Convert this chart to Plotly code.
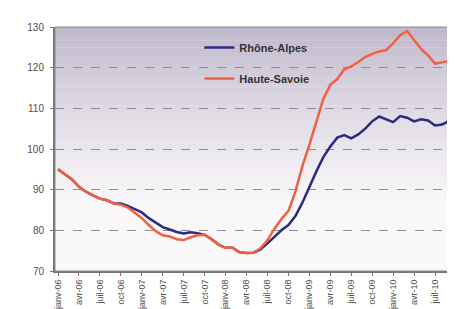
import plotly.graph_objects as go

month_names = ["janv", "févr", "mars", "avr", "mai", "juin",
               "juil", "août", "sept", "oct", "nov", "déc"]
years = ["06", "07", "08", "09", "10"]
months = [f"{m}-{y}" for y in years for m in month_names][:57]

rhone_alpes = [95.0, 93.8, 92.5, 90.7, 89.5, 88.6, 87.8, 87.4, 86.6, 86.6,
               86.0, 85.2, 84.4, 83.0, 81.8, 80.8, 80.2, 79.6, 79.2, 79.5,
               79.3, 78.9, 77.8, 76.5, 75.7, 75.7, 74.6, 74.4, 74.5, 75.3,
               76.8, 78.5, 80.0, 81.3, 83.5, 86.8, 90.8, 94.5, 98.0, 100.6,
               102.8, 103.4, 102.6, 103.6, 105.0, 106.8, 108.0, 107.2, 106.6, 108.1,
               107.7, 106.8, 107.3, 107.0, 105.8, 106.0, 106.9]

haute_savoie = [95.0, 93.8, 92.5, 90.7, 89.5, 88.6, 87.8, 87.4, 86.6, 86.3,
                85.6, 84.3, 83.0, 81.3, 79.8, 78.8, 78.5, 77.8, 77.6, 78.3,
                78.8, 78.9, 77.8, 76.5, 75.7, 75.7, 74.6, 74.4, 74.5, 75.6,
                77.6, 80.4, 82.8, 84.8, 89.5, 95.8, 101.0, 106.5, 112.3, 115.8,
                117.2, 119.6, 120.3, 121.4, 122.6, 123.4, 124.0, 124.3, 126.0, 128.0,
                129.0, 126.8, 124.6, 123.0, 121.0, 121.3, 121.7]

tick_labels = months[::3]
y_ticks = [70, 80, 90, 100, 110, 120, 130]

fig = go.Figure()
fig.add_trace(go.Scatter(x=months, y=rhone_alpes, mode="lines", name="Rhône-Alpes",
                         legendgroup="ra",
                         line=dict(color="#2d2b80", width=2.5)))
fig.add_trace(go.Scatter(x=months, y=haute_savoie, mode="lines", name="Haute-Savoie",
                         legendgroup="hs",
                         line=dict(color="#f2603f", width=2.5)))

# vertical gradient background (purple-grey at top fading to white)
shapes = []
n = 80
top_c = (190, 183, 203)
bot_c = (251, 248, 250)
y_top, y_bot = 130.0, 86.0
for k in range(n):
    t = k / (n - 1)
    tt = t ** 0.85
    c = tuple(int(round(top_c[j] + (bot_c[j] - top_c[j]) * tt)) for j in range(3))
    y0 = y_top - (y_top - y_bot) * k / n
    y1 = y_top - (y_top - y_bot) * (k + 1) / n - 0.1
    shapes.append(dict(type="rect", xref="paper", yref="y", x0=0, x1=1, y0=y1, y1=y0,
                       line=dict(width=0), fillcolor=f"rgb{c}", layer="below"))
shapes.append(dict(type="rect", xref="paper", yref="y", x0=0, x1=1, y0=70, y1=y_bot,
                   line=dict(width=0), fillcolor=f"rgb{bot_c}", layer="below"))
# frame
shapes.append(dict(type="rect", xref="paper", yref="paper", x0=0, x1=1, y0=0, y1=1,
                   line=dict(color="#8a8a8a", width=1), fillcolor="rgba(0,0,0,0)", layer="above"))

fig.update_layout(
    width=455, height=309,
    margin=dict(l=47, r=7, t=19, b=46),
    paper_bgcolor="white",
    plot_bgcolor="white",
    font=dict(family="Liberation Sans, Arial, sans-serif", color="#444444"),
    shapes=shapes,
    showlegend=True,
    legend=dict(x=0.36, y=0.975, xanchor="left", yanchor="top",
                bgcolor="rgba(0,0,0,0)", borderwidth=0,
                font=dict(size=11, color="#333333", weight="bold",
                          family="Liberation Sans, Arial, sans-serif"),
                itemwidth=30, tracegroupgap=12),
)
fig.update_xaxes(
    type="category",
    range=[-0.43, 57.0],
    tickmode="array", tickvals=tick_labels, ticktext=tick_labels,
    tickangle=-90, tickfont=dict(size=9, color="#505050"),
    ticks="outside", ticklen=3, tickcolor="#777777",
    showline=True, linecolor="#777777", linewidth=2,
    showgrid=False, zeroline=False,
)
fig.update_yaxes(
    range=[70, 130],
    tickvals=y_ticks,
    tickfont=dict(size=10, color="#505050"),
    ticks="outside", ticklen=3, tickcolor="#777777",
    ticklabelstandoff=4,
    showline=True, linecolor="#777777", linewidth=2,
    showgrid=True, gridcolor="#8e8c9a", griddash="dash", gridwidth=1,
    zeroline=False,
)

fig.write_html("out.html")
